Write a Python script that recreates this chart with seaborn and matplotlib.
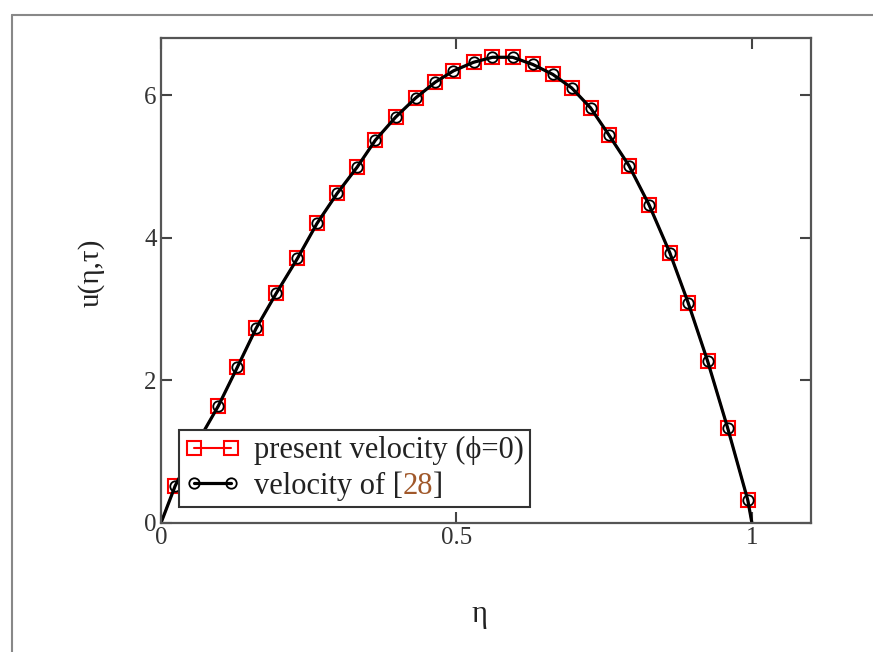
import matplotlib
matplotlib.use("Agg")
import matplotlib.pyplot as plt
from matplotlib.lines import Line2D
import seaborn as sns

# valores (eta, u)
eta = [0.0, 0.024, 0.061, 0.097, 0.129, 0.161, 0.195, 0.231, 0.264, 0.298,
       0.332, 0.363, 0.397, 0.431, 0.464, 0.495, 0.529, 0.561, 0.595, 0.629,
       0.663, 0.695, 0.727, 0.758, 0.792, 0.826, 0.861, 0.892, 0.925, 0.959,
       0.993, 1.0]
u_present = [0.0, 0.52, 1.12, 1.64, 2.18, 2.73, 3.22, 3.71, 4.20, 4.62,
             4.99, 5.37, 5.69, 5.96, 6.18, 6.34, 6.46, 6.53, 6.53, 6.43,
             6.29, 6.10, 5.82, 5.44, 5.01, 4.46, 3.79, 3.09, 2.27, 1.33,
             0.32, 0.0]
# a curva da ref. [28] coincide com a atual
u_ref = [0.0, 0.52, 1.12, 1.64, 2.18, 2.73, 3.22, 3.71, 4.20, 4.62,
         4.99, 5.37, 5.69, 5.96, 6.18, 6.34, 6.46, 6.53, 6.53, 6.43,
         6.29, 6.10, 5.82, 5.44, 5.01, 4.46, 3.79, 3.09, 2.27, 1.33,
         0.32, 0.0]

x_ticks = [0, 0.5, 1]
x_ticklabels = ["0", "0.5", "1"]
y_ticks = [0, 2, 4, 6]

sns.set_style("ticks")
plt.rcParams['font.family'] = ['Liberation Serif', 'DejaVu Serif']

fig = plt.figure(figsize=(8.73, 6.52), dpi=100)
ax = fig.add_axes([0.1844, 0.1979, 0.7446, 0.7438])

marks = list(range(1, len(eta) - 1))

sns.lineplot(x=eta, y=u_present, ax=ax, sort=False, color="red", linewidth=1.5,
             marker="s", markersize=9.5, markerfacecolor="none",
             markeredgecolor="red", markeredgewidth=1.5, markevery=marks,
             label="present velocity (ϕ=0)")
sns.lineplot(x=eta, y=u_ref, ax=ax, sort=False, color="black", linewidth=2.3,
             marker="o", markersize=7.5, markerfacecolor="none",
             markeredgecolor="black", markeredgewidth=1.3, markevery=marks,
             label="velocity of [28]")

ax.set_xlim(0, 1.1)
ax.set_ylim(0, 6.8)
ax.set_xticks(x_ticks)
ax.set_xticklabels(x_ticklabels)
ax.set_yticks(y_ticks)
ax.tick_params(direction="in", length=8, width=1.5, color="#444",
               top=True, right=True, labelsize=18, labelcolor="#333", pad=3)
for s in ax.spines.values():
    s.set_color("#555")
    s.set_linewidth(1.6)

ax.set_xlabel("η", fontsize=22, color="#222")
ax.set_ylabel("u(η,τ)", fontsize=21, color="#222")
ax.xaxis.set_label_coords(0.49, -0.158)
ax.yaxis.set_label_coords(-0.087, 0.515)

leg = ax.legend(loc="lower left", bbox_to_anchor=(0.028, 0.033), borderaxespad=0,
                fontsize=22, frameon=True, fancybox=False, framealpha=1,
                edgecolor="#333", handlelength=1.8, handletextpad=0.45,
                labelspacing=0.2, borderpad=0.2, numpoints=2)
leg.get_frame().set_linewidth(1.5)
for t in leg.get_texts():
    t.set_color("#222")

# "28" em marrom: sobrepõe o texto da segunda entrada
fig.canvas.draw()
r = fig.canvas.get_renderer()
t2 = leg.get_texts()[1]
bb = t2.get_window_extent(r)
fp = t2.get_fontproperties()
t2.set_alpha(0)
inv = fig.transFigure.inverted()

def largura(s):
    tmp = fig.text(0, 0, s, fontproperties=fp)
    w = tmp.get_window_extent(r).width
    tmp.remove()
    return w

w1 = largura("velocity of [")
w2 = largura("velocity of [28")
for s, dx, c in [("velocity of [", 0, "#222"), ("28", w1, "#a0582a"), ("]", w2, "#222")]:
    px, py = inv.transform((bb.x0 + dx, bb.y0))
    fig.text(px, py, s, fontproperties=fp, color=c, ha="left", va="bottom", zorder=10)

# moldura externa cinza
fig.add_artist(Line2D([12/873, 12/873], [0, 1 - 15/652], transform=fig.transFigure,
                      color="#888", lw=1.5))
fig.add_artist(Line2D([12/873, 1], [1 - 15/652, 1 - 15/652], transform=fig.transFigure,
                      color="#888", lw=1.5))

fig.savefig("out.png", dpi=100)
